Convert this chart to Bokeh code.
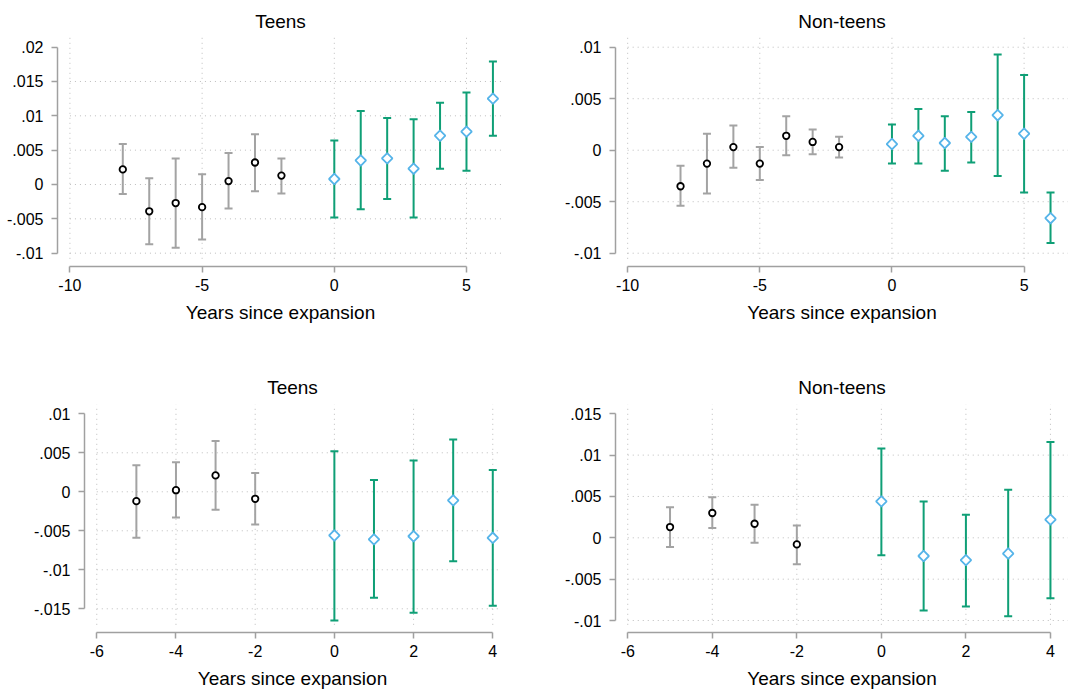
import numpy as np
from bokeh.plotting import figure
from bokeh.layouts import column, row
from bokeh.models import FixedTicker, ColumnDataSource, Range1d
from bokeh.embed import file_html
from bokeh.resources import INLINE

# ---- event-study estimates: coefficient, lower and upper 95% bounds ----
# long window, teens
long_years = [-8, -7, -6, -5, -4, -3, -2, 0, 1, 2, 3, 4, 5, 6]
teens_long_b = [0.0022, -0.0039, -0.0027, -0.0033, 0.0005, 0.0032, 0.0013,
                0.0008, 0.0035, 0.0038, 0.0023, 0.0071, 0.0077, 0.0125]
teens_long_lo = [-0.0014, -0.0087, -0.0092, -0.0080, -0.0035, -0.0010, -0.0013,
                 -0.0048, -0.0036, -0.0021, -0.0048, 0.0023, 0.0020, 0.0071]
teens_long_hi = [0.0059, 0.0009, 0.0038, 0.0015, 0.0046, 0.0073, 0.0038,
                 0.0064, 0.0107, 0.0097, 0.0095, 0.0119, 0.0134, 0.0179]

# long window, non-teens
nonteens_long_b = [-0.0035, -0.0013, 0.0003, -0.0013, 0.0014, 0.0008, 0.0003,
                   0.0006, 0.0014, 0.0007, 0.0013, 0.0034, 0.0016, -0.0066]
nonteens_long_lo = [-0.0054, -0.0042, -0.0017, -0.0029, -0.0005, -0.0004, -0.0007,
                    -0.0013, -0.0013, -0.0020, -0.0012, -0.0025, -0.0041, -0.0090]
nonteens_long_hi = [-0.0015, 0.0016, 0.0024, 0.0003, 0.0033, 0.0020, 0.0013,
                    0.0025, 0.0040, 0.0033, 0.0037, 0.0093, 0.0073, -0.0041]

# short window, teens
short_years = [-5, -4, -3, -2, 0, 1, 2, 3, 4]
teens_short_b = [-0.0012, 0.0002, 0.0021, -0.0009, -0.0056, -0.0061, -0.0057, -0.0011, -0.0059]
teens_short_lo = [-0.0059, -0.0033, -0.0023, -0.0042, -0.0165, -0.0136, -0.0155, -0.0089, -0.0146]
teens_short_hi = [0.0034, 0.0038, 0.0065, 0.0024, 0.0052, 0.0015, 0.0040, 0.0067, 0.0028]

# short window, non-teens
nonteens_short_b = [0.0013, 0.0030, 0.0017, -0.0008, 0.0044, -0.0022, -0.0027, -0.0019, 0.0022]
nonteens_short_lo = [-0.0011, 0.0012, -0.0006, -0.0032, -0.0021, -0.0088, -0.0083, -0.0095, -0.0073]
nonteens_short_hi = [0.0037, 0.0049, 0.0040, 0.0015, 0.0108, 0.0044, 0.0028, 0.0058, 0.0116]

# ---- axis ticks and labels ----
xticks_long = [-10, -5, 0, 5]
xlabels_long = ["-10", "-5", "0", "5"]
xticks_short = [-6, -4, -2, 0, 2, 4]
xlabels_short = ["-6", "-4", "-2", "0", "2", "4"]

yticks_teens_long = [-0.01, -0.005, 0, 0.005, 0.01, 0.015, 0.02]
ylabels_teens_long = ["-.01", "-.005", "0", ".005", ".01", ".015", ".02"]
yticks_nonteens_long = [-0.01, -0.005, 0, 0.005, 0.01]
ylabels_nonteens_long = ["-.01", "-.005", "0", ".005", ".01"]
yticks_teens_short = [-0.015, -0.01, -0.005, 0, 0.005, 0.01]
ylabels_teens_short = ["-.015", "-.01", "-.005", "0", ".005", ".01"]
yticks_nonteens_short = [-0.01, -0.005, 0, 0.005, 0.01, 0.015]
ylabels_nonteens_short = ["-.01", "-.005", "0", ".005", ".01", ".015"]

X_TITLE = "Years since expansion"
FONT = "Liberation Sans"

PRE_BAR = "#a3a3a3"
POST_BAR = "#0f9f76"
POST_MARK = "#56b4e9"
AXIS_COL = "#a0a0a0"
GRID_COL = "#bdbdbd"


def panel(title, years, b, lo, hi, xticks, xlabels, yticks, ylabels,
          xr, yr, frame_w, frame_h, borders, top_grid, title_gap):
    left, right, top, bottom = borders
    p = figure(frame_width=frame_w, frame_height=frame_h,
               x_range=Range1d(*xr), y_range=Range1d(*yr),
               output_backend="svg", toolbar_location=None,
               min_border_left=left, min_border_right=right,
               min_border_top=top, min_border_bottom=bottom,
               title=title)
    p.outline_line_color = None
    p.background_fill_color = "white"
    p.border_fill_color = "white"
    p.xgrid.visible = False
    p.ygrid.visible = False

    p.title.align = "center"
    p.title.text_font = FONT
    p.title.text_font_size = "19px"
    p.title.text_font_style = "normal"
    p.title.text_color = "black"
    p.title.standoff = title_gap

    # dotted grid restricted to the plot region (axes sit slightly offset)
    ygap = 7.7 * (yr[1] - yr[0]) / frame_h
    grid_bottom = yr[0] + ygap
    vx = list(xticks)
    p.segment(x0=vx, x1=vx, y0=[grid_bottom] * len(vx), y1=[yr[1]] * len(vx),
              line_color=GRID_COL, line_width=1, line_dash="1 4")
    hy = [t for t in yticks if top_grid or t != yticks[-1]]
    p.segment(x0=[xticks[0]] * len(hy), x1=[xr[1]] * len(hy), y0=hy, y1=hy,
              line_color=GRID_COL, line_width=1, line_dash="1 4")

    years = np.array(years)
    pre = years < 0
    post = ~pre
    src = {}
    for key, mask in (("pre", pre), ("post", post)):
        src[key] = ColumnDataSource(dict(
            x=years[mask], b=np.array(b)[mask],
            lo=np.array(lo)[mask], hi=np.array(hi)[mask]))

    for key, col in (("pre", PRE_BAR), ("post", POST_BAR)):
        s = src[key]
        p.segment(x0="x", x1="x", y0="lo", y1="hi", source=s,
                  line_color=col, line_width=2)
        p.scatter(x="x", y="lo", source=s, marker="dash", size=8,
                  line_color=col, line_width=2)
        p.scatter(x="x", y="hi", source=s, marker="dash", size=8,
                  line_color=col, line_width=2)

    p.scatter(x="x", y="b", source=src["pre"], marker="circle", size=6.5,
              line_color="black", fill_color="white", line_width=1.8)
    p.scatter(x="x", y="b", source=src["post"], marker="square",
              angle=np.pi / 4, size=7.5, line_color=POST_MARK,
              fill_color="white", line_width=1.8)

    for ax, ticks, labels in ((p.xaxis[0], xticks, xlabels),
                              (p.yaxis[0], yticks, ylabels)):
        ax.ticker = FixedTicker(ticks=list(ticks))
        ax.major_label_overrides = dict(zip(ticks, labels))
        ax.bounds = (ticks[0], ticks[-1])
        ax.axis_line_color = AXIS_COL
        ax.axis_line_width = 1.5
        ax.major_tick_line_color = AXIS_COL
        ax.major_tick_line_width = 1.5
        ax.major_tick_in = 0
        ax.major_tick_out = 6
        ax.minor_tick_line_color = None
        ax.major_label_text_font = FONT
        ax.major_label_text_font_size = "16px"
        ax.major_label_text_color = "black"
    p.yaxis[0].major_label_standoff = 8
    p.xaxis[0].major_label_standoff = 6

    p.xaxis[0].axis_label = X_TITLE
    p.xaxis[0].axis_label_text_font = FONT
    p.xaxis[0].axis_label_text_font_size = "19px"
    p.xaxis[0].axis_label_text_font_style = "normal"
    p.xaxis[0].axis_label_text_color = "black"
    p.xaxis[0].axis_label_standoff = 8
    return p


p1 = panel("Teens", long_years, teens_long_b, teens_long_lo, teens_long_hi,
           xticks_long, xlabels_long, yticks_teens_long, ylabels_teens_long,
           (-10.47, 6.40), (-0.01194, 0.02155), 446, 230, (57, 31, 36, 80), False, 10)
p2 = panel("Non-teens", long_years, nonteens_long_b, nonteens_long_lo, nonteens_long_hi,
           xticks_long, xlabels_long, yticks_nonteens_long, ylabels_nonteens_long,
           (-10.46, 6.68), (-0.01129, 0.01104), 453, 230, (81, 0, 36, 80), True, 10)
p3 = panel("Teens", short_years, teens_short_b, teens_short_lo, teens_short_hi,
           xticks_short, xlabels_short, yticks_teens_short, ylabels_teens_short,
           (-6.31, 4.195), (-0.01804, 0.01119), 416, 228, (84, 34, 58, 60), False, 14)
p4 = panel("Non-teens", short_years, nonteens_short_b, nonteens_short_lo, nonteens_short_hi,
           xticks_short, xlabels_short, yticks_nonteens_short, ylabels_nonteens_short,
           (-6.29, 4.427), (-0.01145, 0.01612), 453, 228, (81, 0, 58, 60), False, 14)

layout = column(row(p1, p2), row(p3, p4))

open("out.html", "w").write(file_html(layout, INLINE))
